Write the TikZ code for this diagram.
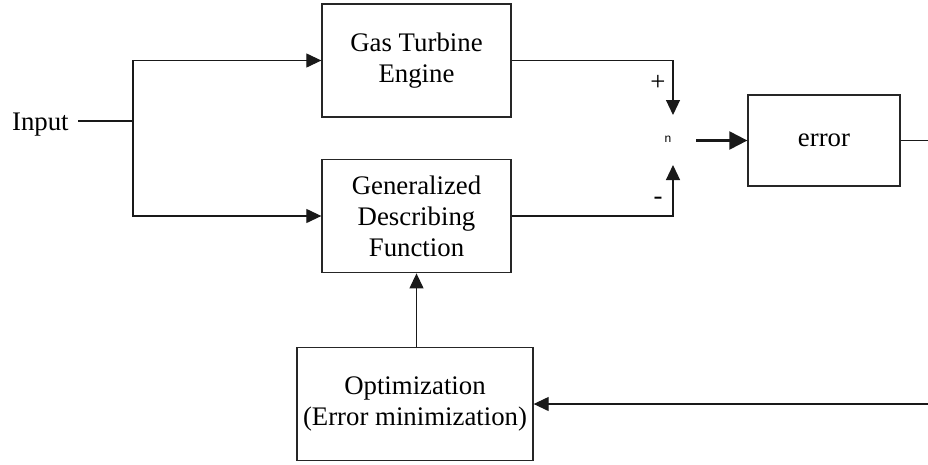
\documentclass[tikz,border=0pt]{standalone}
\usepackage{fontspec}
\setmainfont{Liberation Serif}
\newfontfamily\smallmono{Liberation Mono}
\usetikzlibrary{arrows.meta}
\begin{document}
\begin{tikzpicture}[x=1pt,y=-1pt,
  line width=1.2pt,
  font=\rmfamily\fontsize{26.8}{31}\selectfont,
  every node/.style={align=center},
  block/.style={draw=black!85, line width=1.3pt, inner sep=0pt},
  link/.style={draw=black!90},
  arr/.style={link, -{Triangle[length=15pt,width=14pt]}},
  bigarr/.style={link, line width=2.2pt, -{Triangle[length=18pt,width=18pt]}},
  sign/.style={inner sep=0pt}
]
\useasboundingbox (0,0) rectangle (928,464);

% blocks
\node[block, minimum width=189pt, minimum height=113pt] (gte) at (416.5,60.5) {Gas Turbine\\Engine};
\node[block, minimum width=189pt, minimum height=113.5pt] (gdf) at (416.5,216) {Generalized\\Describing\\Function};
\node[block, minimum width=152pt, minimum height=91pt] (err) at (824,140.5) {error};
\node[block, minimum width=236pt, minimum height=113pt] (opt) at (415,404) {Optimization\\(Error minimization)};

% input and branch point
\node[inner sep=0pt, anchor=base west] (inp) at (11.5,130) {Input};
\coordinate (br) at (133,121);

% comparison point
\coordinate (sumN) at (673,115);
\coordinate (sumS) at (673,165);
\node[inner sep=0pt, font=\smallmono\fontsize{12}{13}\selectfont] (sum) at (668,139.5) {n};
\coordinate (sumE) at (696,140.5);

% right-hand loop ends
\coordinate (outR) at (928,140.5);
\coordinate (fbR) at (928,404);

% signs
\node[sign] (plus) at (658,83) {+};
\node[sign] (minus) at (658,201) {-};

% connectors
\draw[link] ([xshift=9pt]inp.east |- br) -- (br);
\draw[arr] (br) |- (gte.west);
\draw[arr] (br) |- (gdf.west);
\draw[arr] (gte.east) -| (sumN);
\draw[arr] (gdf.east) -| (sumS);
\draw[bigarr] (sumE) -- (err.west);
\draw[link] (err.east) -- (outR);
\draw[arr] (fbR) -- (opt.east);
\draw[arr] (gdf.south |- opt.north) -- (gdf.south);
\end{tikzpicture}
\end{document}
